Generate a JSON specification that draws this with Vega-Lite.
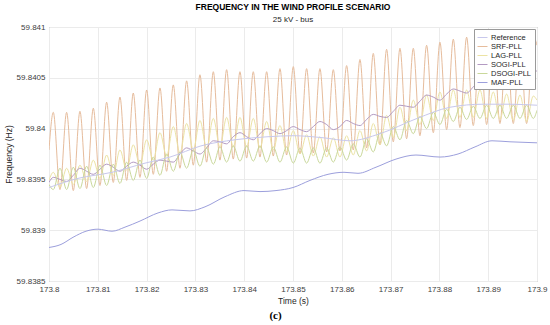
{
  "$schema": "https://vega.github.io/schema/vega-lite/v6.json",
  "background": "white",
  "padding": {"left": 3, "top": 2, "right": 12, "bottom": 2},
  "title": {"text": "(c)", "orient": "bottom", "anchor": "middle", "font": "Liberation Serif", "fontSize": 11, "fontWeight": "bold", "color": "#000000", "offset": 5},
  "vconcat": [
    {
      "width": 488,
      "height": 254,
      "title": {"text": "FREQUENCY IN THE WIND PROFILE SCENARIO", "subtitle": "25 kV - bus", "anchor": "middle", "font": "Liberation Sans", "fontSize": 8.5, "fontWeight": "bold", "color": "#000000", "subtitleFont": "Liberation Sans", "subtitleFontSize": 8, "subtitleColor": "#262626", "subtitlePadding": 5, "offset": -1},
      "layer": [
        {
          "data": {"values": [
            {"t": 173.8, "SRF-PLL": 59.83979, "LAG-PLL": 59.83949, "SOGI-PLL": 59.83947, "DSOGI-PLL": 59.83945},
            {"t": 173.80088, "SRF-PLL": 59.84016, "LAG-PLL": 59.83957, "SOGI-PLL": 59.83952, "DSOGI-PLL": 59.8394},
            {"t": 173.80225, "SRF-PLL": 59.8394, "LAG-PLL": 59.83942, "SOGI-PLL": 59.8395, "DSOGI-PLL": 59.83961},
            {"t": 173.80361, "SRF-PLL": 59.84016, "LAG-PLL": 59.83961, "SOGI-PLL": 59.83948, "DSOGI-PLL": 59.8394},
            {"t": 173.80498, "SRF-PLL": 59.83939, "LAG-PLL": 59.83945, "SOGI-PLL": 59.83954, "DSOGI-PLL": 59.83962},
            {"t": 173.80634, "SRF-PLL": 59.84017, "LAG-PLL": 59.83964, "SOGI-PLL": 59.83961, "DSOGI-PLL": 59.83941},
            {"t": 173.80771, "SRF-PLL": 59.83941, "LAG-PLL": 59.83948, "SOGI-PLL": 59.83958, "DSOGI-PLL": 59.83963},
            {"t": 173.80908, "SRF-PLL": 59.8402, "LAG-PLL": 59.83969, "SOGI-PLL": 59.83955, "DSOGI-PLL": 59.83942},
            {"t": 173.81044, "SRF-PLL": 59.83944, "LAG-PLL": 59.83951, "SOGI-PLL": 59.8396, "DSOGI-PLL": 59.83964},
            {"t": 173.81181, "SRF-PLL": 59.84026, "LAG-PLL": 59.83974, "SOGI-PLL": 59.83965, "DSOGI-PLL": 59.83944},
            {"t": 173.81317, "SRF-PLL": 59.83947, "LAG-PLL": 59.83954, "SOGI-PLL": 59.83962, "DSOGI-PLL": 59.83965},
            {"t": 173.81454, "SRF-PLL": 59.84031, "LAG-PLL": 59.83979, "SOGI-PLL": 59.83958, "DSOGI-PLL": 59.83946},
            {"t": 173.81591, "SRF-PLL": 59.83949, "LAG-PLL": 59.83959, "SOGI-PLL": 59.83963, "DSOGI-PLL": 59.83967},
            {"t": 173.81727, "SRF-PLL": 59.84035, "LAG-PLL": 59.83984, "SOGI-PLL": 59.83967, "DSOGI-PLL": 59.83949},
            {"t": 173.81864, "SRF-PLL": 59.83952, "LAG-PLL": 59.83964, "SOGI-PLL": 59.83964, "DSOGI-PLL": 59.83969},
            {"t": 173.82001, "SRF-PLL": 59.84038, "LAG-PLL": 59.83989, "SOGI-PLL": 59.8396, "DSOGI-PLL": 59.83951},
            {"t": 173.82137, "SRF-PLL": 59.83955, "LAG-PLL": 59.83969, "SOGI-PLL": 59.83965, "DSOGI-PLL": 59.83972},
            {"t": 173.82274, "SRF-PLL": 59.8404, "LAG-PLL": 59.83996, "SOGI-PLL": 59.83969, "DSOGI-PLL": 59.83954},
            {"t": 173.8241, "SRF-PLL": 59.83958, "LAG-PLL": 59.83973, "SOGI-PLL": 59.83968, "DSOGI-PLL": 59.83975},
            {"t": 173.82547, "SRF-PLL": 59.84043, "LAG-PLL": 59.84002, "SOGI-PLL": 59.83967, "DSOGI-PLL": 59.83958},
            {"t": 173.82684, "SRF-PLL": 59.83961, "LAG-PLL": 59.83976, "SOGI-PLL": 59.83975, "DSOGI-PLL": 59.83977},
            {"t": 173.8282, "SRF-PLL": 59.84047, "LAG-PLL": 59.84005, "SOGI-PLL": 59.83981, "DSOGI-PLL": 59.83961},
            {"t": 173.82957, "SRF-PLL": 59.83964, "LAG-PLL": 59.83979, "SOGI-PLL": 59.83978, "DSOGI-PLL": 59.83979},
            {"t": 173.83093, "SRF-PLL": 59.84053, "LAG-PLL": 59.84008, "SOGI-PLL": 59.83975, "DSOGI-PLL": 59.83963},
            {"t": 173.8323, "SRF-PLL": 59.83967, "LAG-PLL": 59.83981, "SOGI-PLL": 59.83981, "DSOGI-PLL": 59.83981},
            {"t": 173.83367, "SRF-PLL": 59.84056, "LAG-PLL": 59.8401, "SOGI-PLL": 59.83988, "DSOGI-PLL": 59.83965},
            {"t": 173.83503, "SRF-PLL": 59.83969, "LAG-PLL": 59.83982, "SOGI-PLL": 59.83987, "DSOGI-PLL": 59.83982},
            {"t": 173.8364, "SRF-PLL": 59.84058, "LAG-PLL": 59.84011, "SOGI-PLL": 59.83985, "DSOGI-PLL": 59.83967},
            {"t": 173.83776, "SRF-PLL": 59.8397, "LAG-PLL": 59.83982, "SOGI-PLL": 59.83992, "DSOGI-PLL": 59.83983},
            {"t": 173.83913, "SRF-PLL": 59.84056, "LAG-PLL": 59.84011, "SOGI-PLL": 59.83996, "DSOGI-PLL": 59.83968},
            {"t": 173.8405, "SRF-PLL": 59.83971, "LAG-PLL": 59.83982, "SOGI-PLL": 59.83992, "DSOGI-PLL": 59.83983},
            {"t": 173.84186, "SRF-PLL": 59.84056, "LAG-PLL": 59.8401, "SOGI-PLL": 59.83989, "DSOGI-PLL": 59.83968},
            {"t": 173.84323, "SRF-PLL": 59.83972, "LAG-PLL": 59.83981, "SOGI-PLL": 59.83995, "DSOGI-PLL": 59.83983},
            {"t": 173.8446, "SRF-PLL": 59.84056, "LAG-PLL": 59.84007, "SOGI-PLL": 59.84, "DSOGI-PLL": 59.83967},
            {"t": 173.84596, "SRF-PLL": 59.83973, "LAG-PLL": 59.83979, "SOGI-PLL": 59.83998, "DSOGI-PLL": 59.83982},
            {"t": 173.84733, "SRF-PLL": 59.84059, "LAG-PLL": 59.84003, "SOGI-PLL": 59.83995, "DSOGI-PLL": 59.83967},
            {"t": 173.84869, "SRF-PLL": 59.83974, "LAG-PLL": 59.83977, "SOGI-PLL": 59.83998, "DSOGI-PLL": 59.83982},
            {"t": 173.85006, "SRF-PLL": 59.84061, "LAG-PLL": 59.83998, "SOGI-PLL": 59.84002, "DSOGI-PLL": 59.83966},
            {"t": 173.85143, "SRF-PLL": 59.83975, "LAG-PLL": 59.83975, "SOGI-PLL": 59.83999, "DSOGI-PLL": 59.83981},
            {"t": 173.85279, "SRF-PLL": 59.84059, "LAG-PLL": 59.83994, "SOGI-PLL": 59.83997, "DSOGI-PLL": 59.83966},
            {"t": 173.85416, "SRF-PLL": 59.83976, "LAG-PLL": 59.83973, "SOGI-PLL": 59.84002, "DSOGI-PLL": 59.83981},
            {"t": 173.85552, "SRF-PLL": 59.84059, "LAG-PLL": 59.83992, "SOGI-PLL": 59.84007, "DSOGI-PLL": 59.83966},
            {"t": 173.85689, "SRF-PLL": 59.83977, "LAG-PLL": 59.83972, "SOGI-PLL": 59.84004, "DSOGI-PLL": 59.83981},
            {"t": 173.85826, "SRF-PLL": 59.84058, "LAG-PLL": 59.83991, "SOGI-PLL": 59.83999, "DSOGI-PLL": 59.83967},
            {"t": 173.85962, "SRF-PLL": 59.83978, "LAG-PLL": 59.83972, "SOGI-PLL": 59.84002, "DSOGI-PLL": 59.83982},
            {"t": 173.86099, "SRF-PLL": 59.84062, "LAG-PLL": 59.83993, "SOGI-PLL": 59.84008, "DSOGI-PLL": 59.83969},
            {"t": 173.86235, "SRF-PLL": 59.83979, "LAG-PLL": 59.83974, "SOGI-PLL": 59.84005, "DSOGI-PLL": 59.83985},
            {"t": 173.86372, "SRF-PLL": 59.84068, "LAG-PLL": 59.83998, "SOGI-PLL": 59.84003, "DSOGI-PLL": 59.83972},
            {"t": 173.86509, "SRF-PLL": 59.83981, "LAG-PLL": 59.83978, "SOGI-PLL": 59.84009, "DSOGI-PLL": 59.8399},
            {"t": 173.86645, "SRF-PLL": 59.84074, "LAG-PLL": 59.84005, "SOGI-PLL": 59.84014, "DSOGI-PLL": 59.83977},
            {"t": 173.86782, "SRF-PLL": 59.83984, "LAG-PLL": 59.83984, "SOGI-PLL": 59.84012, "DSOGI-PLL": 59.83996},
            {"t": 173.86918, "SRF-PLL": 59.84078, "LAG-PLL": 59.84013, "SOGI-PLL": 59.84011, "DSOGI-PLL": 59.83983},
            {"t": 173.87055, "SRF-PLL": 59.83987, "LAG-PLL": 59.83991, "SOGI-PLL": 59.84017, "DSOGI-PLL": 59.84002},
            {"t": 173.87192, "SRF-PLL": 59.84079, "LAG-PLL": 59.84021, "SOGI-PLL": 59.84023, "DSOGI-PLL": 59.83989},
            {"t": 173.87328, "SRF-PLL": 59.8399, "LAG-PLL": 59.83998, "SOGI-PLL": 59.84022, "DSOGI-PLL": 59.84008},
            {"t": 173.87465, "SRF-PLL": 59.84079, "LAG-PLL": 59.84028, "SOGI-PLL": 59.84021, "DSOGI-PLL": 59.83995},
            {"t": 173.87601, "SRF-PLL": 59.83993, "LAG-PLL": 59.84004, "SOGI-PLL": 59.84027, "DSOGI-PLL": 59.84012},
            {"t": 173.87738, "SRF-PLL": 59.84082, "LAG-PLL": 59.84033, "SOGI-PLL": 59.84033, "DSOGI-PLL": 59.84},
            {"t": 173.87875, "SRF-PLL": 59.83996, "LAG-PLL": 59.84008, "SOGI-PLL": 59.84031, "DSOGI-PLL": 59.84016},
            {"t": 173.88011, "SRF-PLL": 59.84085, "LAG-PLL": 59.84036, "SOGI-PLL": 59.84028, "DSOGI-PLL": 59.84004},
            {"t": 173.88148, "SRF-PLL": 59.83999, "LAG-PLL": 59.8401, "SOGI-PLL": 59.84034, "DSOGI-PLL": 59.84019},
            {"t": 173.88285, "SRF-PLL": 59.84088, "LAG-PLL": 59.84038, "SOGI-PLL": 59.84039, "DSOGI-PLL": 59.84007},
            {"t": 173.88421, "SRF-PLL": 59.84001, "LAG-PLL": 59.84011, "SOGI-PLL": 59.84037, "DSOGI-PLL": 59.84021},
            {"t": 173.88558, "SRF-PLL": 59.8409, "LAG-PLL": 59.84038, "SOGI-PLL": 59.84035, "DSOGI-PLL": 59.84009},
            {"t": 173.88694, "SRF-PLL": 59.84003, "LAG-PLL": 59.84011, "SOGI-PLL": 59.84041, "DSOGI-PLL": 59.84022},
            {"t": 173.88831, "SRF-PLL": 59.8409, "LAG-PLL": 59.84038, "SOGI-PLL": 59.84047, "DSOGI-PLL": 59.8401},
            {"t": 173.88968, "SRF-PLL": 59.84004, "LAG-PLL": 59.8401, "SOGI-PLL": 59.84044, "DSOGI-PLL": 59.84023},
            {"t": 173.89104, "SRF-PLL": 59.84091, "LAG-PLL": 59.84036, "SOGI-PLL": 59.84042, "DSOGI-PLL": 59.8401},
            {"t": 173.89241, "SRF-PLL": 59.84005, "LAG-PLL": 59.84009, "SOGI-PLL": 59.84047, "DSOGI-PLL": 59.84023},
            {"t": 173.89377, "SRF-PLL": 59.84091, "LAG-PLL": 59.84034, "SOGI-PLL": 59.84053, "DSOGI-PLL": 59.8401},
            {"t": 173.89514, "SRF-PLL": 59.84005, "LAG-PLL": 59.84008, "SOGI-PLL": 59.8405, "DSOGI-PLL": 59.84023},
            {"t": 173.89651, "SRF-PLL": 59.84091, "LAG-PLL": 59.84033, "SOGI-PLL": 59.84048, "DSOGI-PLL": 59.8401},
            {"t": 173.89787, "SRF-PLL": 59.84005, "LAG-PLL": 59.84007, "SOGI-PLL": 59.84053, "DSOGI-PLL": 59.84023},
            {"t": 173.89924, "SRF-PLL": 59.84091, "LAG-PLL": 59.84032, "SOGI-PLL": 59.84059, "DSOGI-PLL": 59.8401},
            {"t": 173.9, "SRF-PLL": 59.84082, "LAG-PLL": 59.84028, "SOGI-PLL": 59.84056, "DSOGI-PLL": 59.84018}
          ]},
          "transform": [{"fold": ["SRF-PLL", "LAG-PLL", "SOGI-PLL", "DSOGI-PLL"], "as": ["series", "v"]}],
          "mark": {"type": "line", "strokeWidth": 1, "interpolate": "monotone", "clip": true},
          "encoding": {
            "x": {"field": "t", "type": "quantitative", "scale": {"domain": [173.8, 173.9], "nice": false, "zero": false},
                  "axis": {"title": "Time (s)", "values": [173.8, 173.81, 173.82, 173.83, 173.84, 173.85, 173.86, 173.87, 173.88, 173.89, 173.9], "format": ".2~f", "labelPadding": 4, "titlePadding": 3, "labelFlush": false}},
            "y": {"field": "v", "type": "quantitative", "scale": {"domain": [59.8385, 59.841], "nice": false, "zero": false},
                  "axis": {"title": "Frequency (Hz)", "values": [59.8385, 59.839, 59.8395, 59.84, 59.8405, 59.841], "format": ".4~f", "labelPadding": 4, "titlePadding": 3, "labelFlush": false}},
            "color": {"field": "series", "type": "nominal",
                      "scale": {"domain": ["Reference", "SRF-PLL", "LAG-PLL", "SOGI-PLL", "DSOGI-PLL", "MAF-PLL"], "range": ["#c8c8ec", "#e6bc9c", "#ece3a4", "#b39ac2", "#c9d89a", "#9c9fdc"]},
                      "legend": {"title": null}}
          }
        },
        {
          "data": {"values": [
            {"t": 173.8, "series": "Reference", "v": 59.83942},
            {"t": 173.80594, "series": "Reference", "v": 59.83951},
            {"t": 173.81291, "series": "Reference", "v": 59.83957},
            {"t": 173.81967, "series": "Reference", "v": 59.83966},
            {"t": 173.8248, "series": "Reference", "v": 59.83972},
            {"t": 173.83115, "series": "Reference", "v": 59.83983},
            {"t": 173.83811, "series": "Reference", "v": 59.83989},
            {"t": 173.84488, "series": "Reference", "v": 59.83992},
            {"t": 173.85, "series": "Reference", "v": 59.83993},
            {"t": 173.85615, "series": "Reference", "v": 59.83991},
            {"t": 173.86168, "series": "Reference", "v": 59.83988},
            {"t": 173.86783, "series": "Reference", "v": 59.83995},
            {"t": 173.87541, "series": "Reference", "v": 59.8401},
            {"t": 173.88217, "series": "Reference", "v": 59.84021},
            {"t": 173.88893, "series": "Reference", "v": 59.84024},
            {"t": 173.89447, "series": "Reference", "v": 59.84024},
            {"t": 173.9, "series": "Reference", "v": 59.84023},
            {"t": 173.8, "series": "MAF-PLL", "v": 59.83883},
            {"t": 173.80246, "series": "MAF-PLL", "v": 59.83886},
            {"t": 173.80492, "series": "MAF-PLL", "v": 59.83893},
            {"t": 173.80758, "series": "MAF-PLL", "v": 59.83899},
            {"t": 173.81004, "series": "MAF-PLL", "v": 59.83901},
            {"t": 173.81291, "series": "MAF-PLL", "v": 59.83899},
            {"t": 173.81557, "series": "MAF-PLL", "v": 59.83903},
            {"t": 173.81865, "series": "MAF-PLL", "v": 59.83909},
            {"t": 173.82234, "series": "MAF-PLL", "v": 59.83917},
            {"t": 173.8252, "series": "MAF-PLL", "v": 59.8392},
            {"t": 173.82889, "series": "MAF-PLL", "v": 59.83919},
            {"t": 173.83197, "series": "MAF-PLL", "v": 59.83923},
            {"t": 173.83607, "series": "MAF-PLL", "v": 59.83933},
            {"t": 173.83996, "series": "MAF-PLL", "v": 59.83939},
            {"t": 173.84324, "series": "MAF-PLL", "v": 59.83938},
            {"t": 173.84652, "series": "MAF-PLL", "v": 59.83939},
            {"t": 173.85, "series": "MAF-PLL", "v": 59.83942},
            {"t": 173.85348, "series": "MAF-PLL", "v": 59.83949},
            {"t": 173.85717, "series": "MAF-PLL", "v": 59.83955},
            {"t": 173.86045, "series": "MAF-PLL", "v": 59.83957},
            {"t": 173.86332, "series": "MAF-PLL", "v": 59.83956},
            {"t": 173.86701, "series": "MAF-PLL", "v": 59.83962},
            {"t": 173.87111, "series": "MAF-PLL", "v": 59.8397},
            {"t": 173.8752, "series": "MAF-PLL", "v": 59.83974},
            {"t": 173.88012, "series": "MAF-PLL", "v": 59.83972},
            {"t": 173.88381, "series": "MAF-PLL", "v": 59.83975},
            {"t": 173.8873, "series": "MAF-PLL", "v": 59.83982},
            {"t": 173.89078, "series": "MAF-PLL", "v": 59.83988},
            {"t": 173.89447, "series": "MAF-PLL", "v": 59.83987},
            {"t": 173.9, "series": "MAF-PLL", "v": 59.83986}
          ]},
          "mark": {"type": "line", "strokeWidth": 1, "interpolate": "monotone", "clip": true},
          "encoding": {
            "x": {"field": "t", "type": "quantitative"},
            "y": {"field": "v", "type": "quantitative"},
            "color": {"field": "series", "type": "nominal"}
          }
        }
      ]
    }
  ],
  "config": {
    "view": {"stroke": "#9a9a9a", "strokeWidth": 1},
    "axis": {"labelFont": "Liberation Sans", "labelFontSize": 8, "labelColor": "#404040", "titleFont": "Liberation Sans", "titleFontSize": 8.5, "titleFontWeight": "normal", "titleColor": "#262626", "gridColor": "#ebebeb", "gridWidth": 1, "domain": false, "ticks": false},
    "legend": {"orient": "top-right", "offset": 2, "padding": 3, "fillColor": "#ffffff", "strokeColor": "#9a9a9a", "labelFont": "Liberation Sans", "labelFontSize": 7.5, "labelColor": "#262626", "symbolType": "stroke", "symbolSize": 100, "symbolStrokeWidth": 1, "rowPadding": 0, "labelOffset": 3}
  }
}
